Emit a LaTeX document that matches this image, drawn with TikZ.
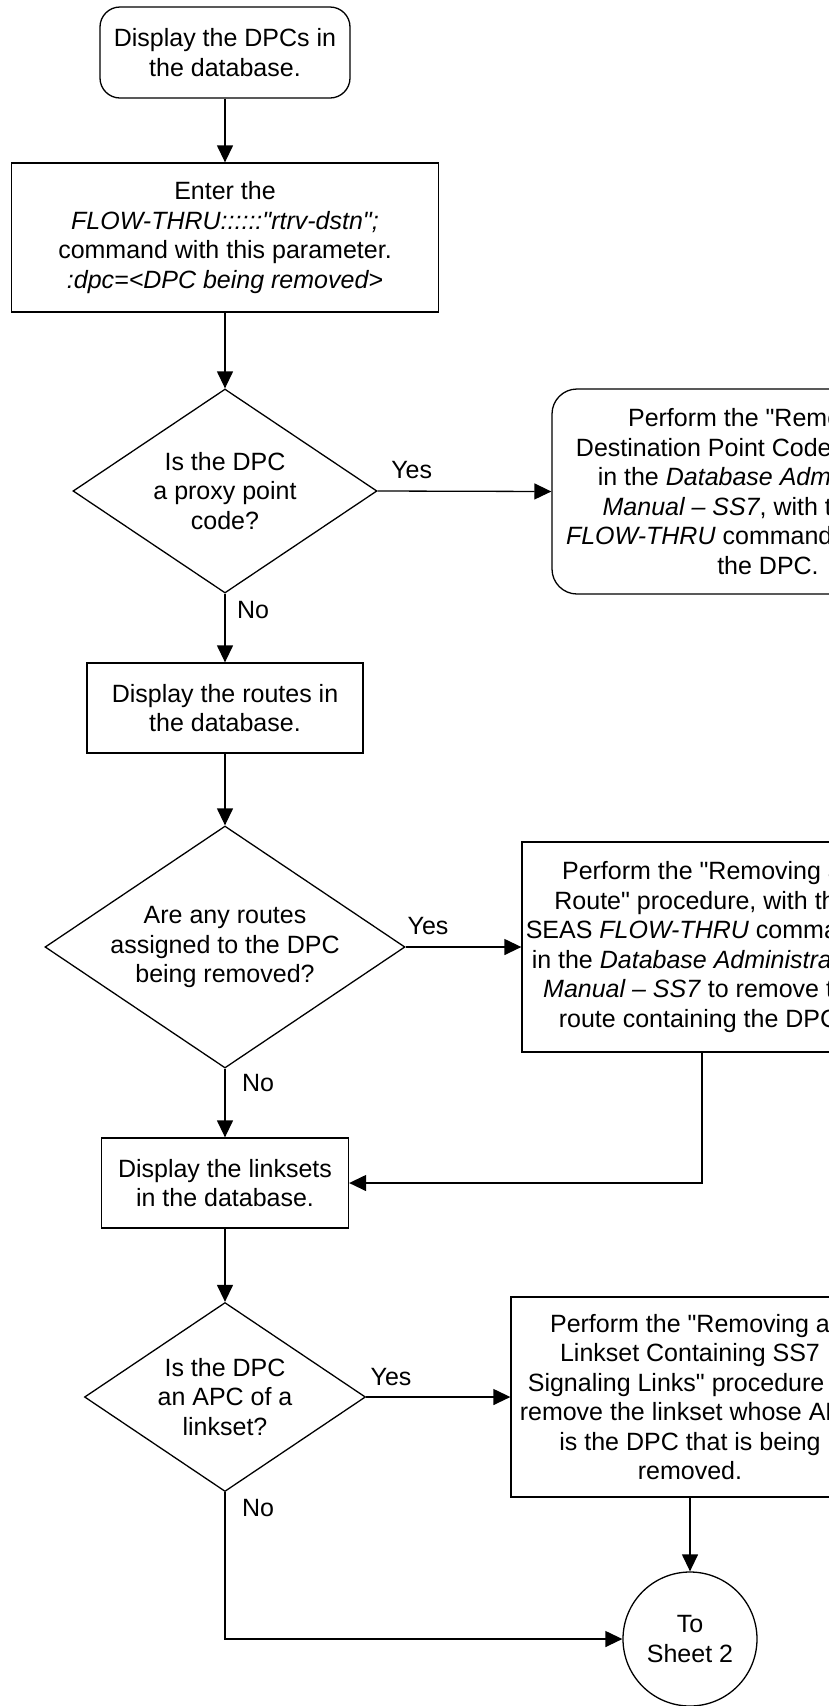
\documentclass[tikz,border=0pt]{standalone}
\usepackage{fontspec}
\setmainfont{Liberation Sans}[Ligatures=TeXOff]
\usetikzlibrary{shapes.geometric,arrows.meta}
\begin{document}
\begin{tikzpicture}[x=1pt,y=-1pt,
  every node/.style={font=\fontsize{25}{29.5}\selectfont, align=center, inner sep=0pt},
  proc/.style={draw, line width=1.3pt, rectangle},
  term/.style={draw, line width=1.3pt, rectangle, rounded corners=20pt},
  decide/.style={draw, line width=1.3pt, diamond, shape aspect=1.5},
  conn/.style={draw, line width=1.3pt, circle},
  lab/.style={font=\fontsize{25}{29.5}\selectfont},
  flow/.style={line width=1.3pt, -{Triangle[length=17pt,width=16pt]}}
]
\useasboundingbox (0,0) rectangle (829,1706);

\node[term, minimum width=250pt, minimum height=91pt] (start) at (225,52.5)
  {Display the DPCs in\\the database.};
\node[proc, minimum width=427pt, minimum height=149pt] (enter) at (225,237.5)
  {Enter the\\\textit{FLOW-THRU::::::"rtrv-dstn";}\\command with this parameter.\\\textit{:dpc=<DPC being removed>}};
\node[decide, minimum width=304pt, minimum height=204pt] (d1) at (225,491)
  {Is the DPC\\a proxy point\\code?};
\node[term, rounded corners=25pt, minimum width=432pt, minimum height=205pt] (rb1) at (768,491.5)
  {Perform the "Removing a\\Destination Point Code" procedure\\in the \textit{Database Administration}\\\textit{Manual – SS7}, with the SEAS\\\textit{FLOW-THRU} commands, to remove\\the DPC.};
\node[proc, minimum width=276pt, minimum height=90pt] (routes) at (225,708)
  {Display the routes in\\the database.};
\node[decide, minimum width=360pt, minimum height=242pt] (d2) at (225,947)
  {Are any routes\\assigned to the DPC\\being removed?};
\node[proc, minimum width=360pt, minimum height=210pt] (rb2) at (702,947)
  {Perform the "Removing a\\Route" procedure, with the\\SEAS \textit{FLOW-THRU} commands\\in the \textit{Database Administration}\\\textit{Manual – SS7} to remove the\\route containing the DPC.};
\node[proc, minimum width=247pt, minimum height=90pt] (links) at (225,1183)
  {Display the linksets\\in the database.};
\node[decide, minimum width=281pt, minimum height=189pt] (d3) at (225,1397)
  {Is the DPC\\an APC of a\\linkset?};
\node[proc, minimum width=358pt, minimum height=200pt] (rb3) at (690,1397)
  {Perform the "Removing a\\Linkset Containing SS7\\Signaling Links" procedure to\\remove the linkset whose APC\\is the DPC that is being\\removed.};
\node[conn, minimum size=134pt] (sheet) at (690,1639) {To\\Sheet 2};

\node[lab] (y1) at (411.7,470) {Yes};
\node[lab] (n1) at (253,610) {No};
\node[lab] (y2) at (428,926) {Yes};
\node[lab] (n2) at (258,1083) {No};
\node[lab] (y3) at (391,1377) {Yes};
\node[lab] (n3) at (258,1508) {No};

\draw[flow] (start.south) -- (enter.north);
\draw[flow] (enter.south) -- (d1.north);
\draw[flow] (d1.east) -- (rb1.west);
\draw[flow] (d1.south) -- (routes.north);
\draw[flow] (routes.south) -- (d2.north);
\draw[flow] (d2.east) -- (rb2.west);
\draw[flow] (d2.south) -- (links.north);
\draw[flow] (rb2.south) |- (links.east);
\draw[flow] (links.south) -- (d3.north);
\draw[flow] (d3.east) -- (rb3.west);
\draw[flow] (rb3.south) -- (sheet.north);
\draw[flow] (d3.south) |- (sheet.west);
\end{tikzpicture}
\end{document}
